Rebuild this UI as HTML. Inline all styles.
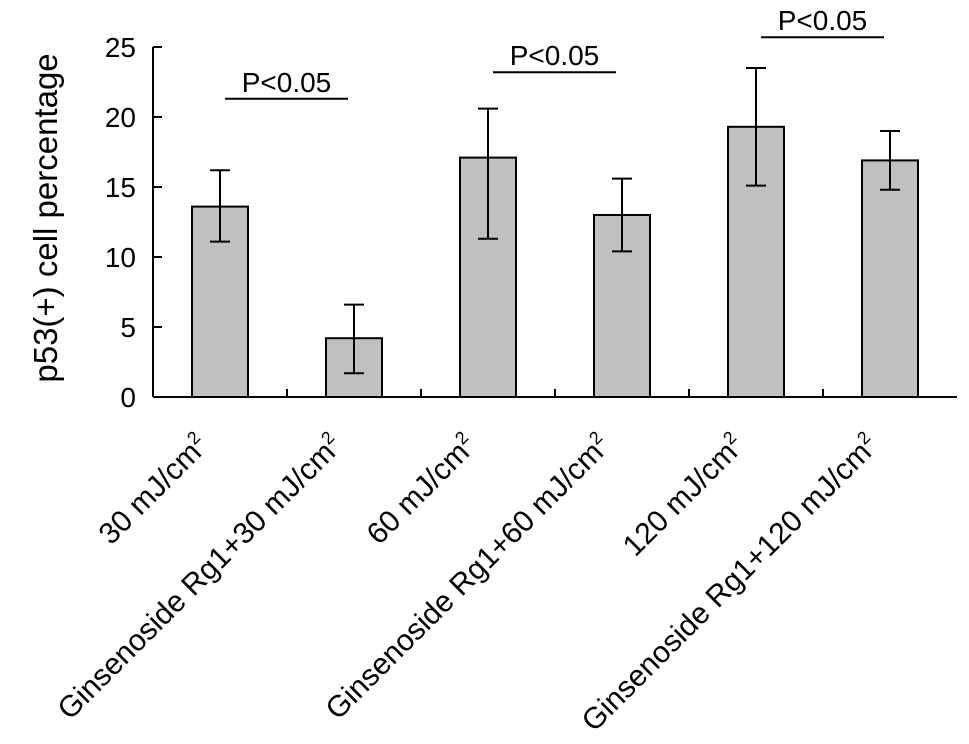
<!DOCTYPE html>
<html><head><meta charset="utf-8"><style>
html,body{margin:0;padding:0;background:#fff;}
svg{display:block;font-family:"Liberation Sans",Arial,sans-serif;}
</style></head><body>
<svg id="chart" width="969" height="744" viewBox="0 0 969 744" xmlns="http://www.w3.org/2000/svg"></svg>
<script>
const categories = ["30 mJ/cm", "Ginsenoside Rg1+30 mJ/cm", "60 mJ/cm", "Ginsenoside Rg1+60 mJ/cm", "120 mJ/cm", "Ginsenoside Rg1+120 mJ/cm"];
const values = [13.6, 4.2, 17.1, 13.0, 19.3, 16.9];
const errUpper = [16.2, 6.6, 20.6, 15.6, 23.5, 19.0];
const errLower = [11.1, 1.7, 11.3, 10.4, 15.1, 14.8];
const yTicks = [0, 5, 10, 15, 20, 25];
const sigPairs = [[0, 1, 21.3], [2, 3, 23.2], [4, 5, 25.7]];
const sigLabel = "P<0.05";

const NS = "http://www.w3.org/2000/svg";
const svg = document.getElementById('chart');
const x0 = 153, y0 = 397, pxPerUnit = 14, catW = 134, barW = 56;
const xAxisEnd = x0 + catW * categories.length;
function yScale(v){ return y0 - v * pxPerUnit; }
function xCenter(i){ return x0 + catW * (i + 0.5); }
function mk(tag, attrs){ const e = document.createElementNS(NS, tag); for (const k in attrs) e.setAttribute(k, attrs[k]); svg.appendChild(e); return e; }

let ax = mk('line', {x1:x0, y1:yScale(25), x2:x0, y2:y0, stroke:'#000', 'stroke-width':2});


let xa = mk('line', {x1:x0, y1:y0, x2:xAxisEnd, y2:y0, stroke:'#000', 'stroke-width':2});



yTicks.forEach(t => {
  const y = yScale(t);
  const tk = mk('line', {x1:x0, y1:y, x2:x0+9, y2:y, stroke:'#000', 'stroke-width':2});
  
  
  const lb = mk('text', {x:136, y:y+10, 'text-anchor':'end', 'font-size':28});
  lb.textContent = t;
  
  
});
for (let i = 1; i < categories.length; i++) {
  const tk = mk('line', {x1:x0+catW*i, y1:y0, x2:x0+catW*i, y2:y0-8, stroke:'#000', 'stroke-width':2});
  
  
}

const yt = mk('text', {x:0, y:0, 'font-size':33, 'text-anchor':'middle', transform:'translate(57,218) rotate(-90)'});
yt.textContent = 'p53(+) cell percentage';



categories.forEach((c, i) => {
  const cx = xCenter(i);
  const b = mk('rect', {x:cx-barW/2, y:yScale(values[i]), width:barW, height:y0-yScale(values[i]), fill:'#c0c0c0', stroke:'#000', 'stroke-width':2});
  
  
  const eu = yScale(errUpper[i]), el = yScale(errLower[i]);
  const g = document.createElementNS(NS, 'path');
  g.setAttribute('d', `M${cx},${eu}V${el}M${cx-10},${eu}H${cx+10}M${cx-10},${el}H${cx+10}`);
  g.setAttribute('stroke', '#000'); g.setAttribute('stroke-width', 2); g.setAttribute('fill', 'none');
  
  
  svg.appendChild(g);
  const tx = cx - 10, ty = 447;
  const lb = mk('text', {x:tx, y:ty, 'text-anchor':'end', 'font-size':30, transform:`rotate(-45 ${tx} ${ty})`});
  lb.textContent = c;
  const sup = document.createElementNS(NS, 'tspan');
  sup.setAttribute('font-size', 18); sup.setAttribute('dy', -12);
  sup.textContent = '2';
  lb.appendChild(sup);
  
  
});

sigPairs.forEach(p => {
  const a = xCenter(p[0]) + 5, b = xCenter(p[1]) - 6, y = yScale(p[2]);
  const l = mk('line', {x1:a, y1:y, x2:b, y2:y, stroke:'#000', 'stroke-width':2});
  
  
  const t = mk('text', {x:(a+b)/2, y:y-7, 'text-anchor':'middle', 'font-size':28});
  t.textContent = sigLabel;
  
  
});
</script>
</body></html>
